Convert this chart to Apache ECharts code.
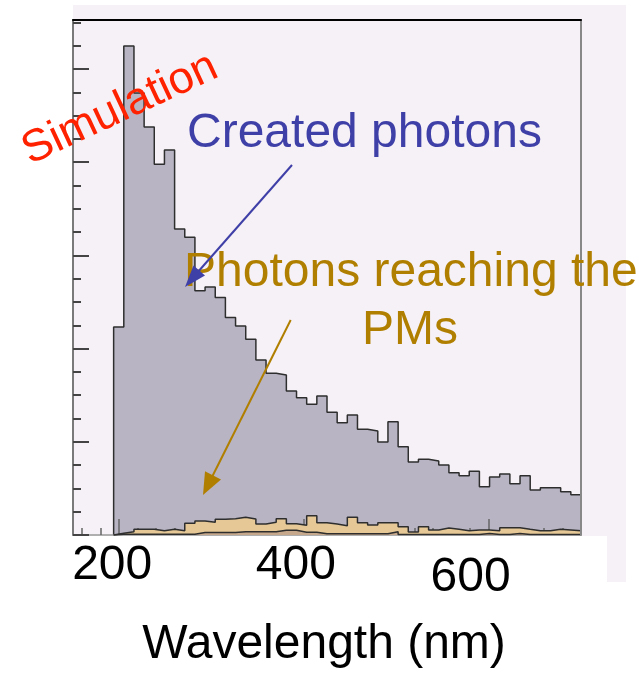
<!DOCTYPE html>
<html>
<head>
<meta charset="utf-8">
<script src="https://cdn.jsdelivr.net/npm/echarts@6/dist/echarts.min.js"></script>
<style>html,body{margin:0;padding:0;background:#fff}#c{width:639px;height:675px}</style>
</head>
<body>
<div id="c"></div>
<script>
// Histogram bins (nm): lower edges, last upper edge
const binLow = [194,205,216,227,238,249,260,271,282,293,304,315,326,337,348,359,370,381,392,403,414,425,436,447,458,469,480,491,502,513,524,535,546,557,568,579,590,601,612,623,634,645,656,667,678,689];
const binHigh = 700;
// Created photons (grey)
const createdPhotons = [2232,5247,4742,4378,3977,4131,3283,3194,2621,2661,2548,2334,2242,2100,1878,1735,1717,1545,1473,1402,1491,1317,1205,1288,1134,1116,998,1216,947,783,812,794,751,668,636,683,518,622,655,550,636,483,508,508,465,432];
// Photons reaching the PMs (tan)
const reachingPMs = [18,35,61,61,46,61,46,126,150,136,168,175,190,172,118,136,175,121,104,207,132,118,100,190,132,107,132,132,89,32,89,54,75,61,46,54,54,46,78,78,61,46,46,61,54,46];
// Lowest histogram (brown)
const lowestHist = [8,8,8,8,8,8,8,8,27,27,27,27,35,35,35,35,50,50,29,29,14,14,14,14,14,14,14,35,5,5,5,5,5,5,5,5,16,5,5,16,5,5,5,5,5,5];
// Axis ticks and labels
const xTickLabels = [200, 400, 600];
const xMinorTicks = [160,180,200,220,240,260,280,300,320,340,360,380,400,420,440,460,480,500,520,540,560,580,600,620,640,660,680,700];
const yMajorTicks = [0,1000,2000,3000,4000,5000];
const yMinorTicks = [250,500,750,1250,1500,1750,2250,2500,2750,3250,3500,3750,4250,4500,4750,5250,5500];
const xMin = 150, xMax = 700, yMin = 0, yMax = 5526;

function stepData(values) {
  const pts = [[binLow[0], 0]];
  values.forEach((v, i) => pts.push([binLow[i], v]));
  pts.push([binHigh, values[values.length - 1]]);
  pts.push([binHigh, 0]);
  return pts;
}

const FONT = '"Liberation Sans", Arial, Helvetica, sans-serif';
const chart = echarts.init(document.getElementById('c'), null, {renderer: 'canvas'});

function histSeries(name, values, fill, z) {
  return {
    name: name, type: 'line', step: 'end', data: stepData(values),
    xAxisIndex: 0, yAxisIndex: 0,
    showSymbol: false, symbol: 'none', silent: true, z: z, smooth: false,
    lineStyle: {color: '#2e2e2e', width: 1.5},
    areaStyle: {color: fill, opacity: 1}
  };
}

const labelRich = {
  l200: {padding: [0, 14, 0, 0], fontSize: 48, color: '#000', fontFamily: FONT},
  l400: {padding: [0, 16, 0, 0], fontSize: 48, color: '#000', fontFamily: FONT},
  l600: {padding: [12, 36, 0, 0], fontSize: 48, color: '#000', fontFamily: FONT}
};

const option = {
  animation: false,
  backgroundColor: '#ffffff',
  grid: {left: 73, right: 58, top: 20, bottom: 140, containLabel: false},
  xAxis: [
    {
      type: 'value', min: xMin, max: xMax, position: 'bottom', offset: 0, z: 2,
      name: 'Wavelength (nm)', nameLocation: 'middle', nameGap: 86,
      nameTextStyle: {fontSize: 48, color: '#000', fontFamily: FONT, padding: [0, 6, 0, 0]},
      axisLine: {show: true, onZero: false, lineStyle: {color: '#999', width: 1.5}},
      axisTick: {show: true, inside: true, length: 16, customValues: xTickLabels, lineStyle: {color: '#666', width: 1.5}},
      axisLabel: {show: true, margin: 7, customValues: xTickLabels,
        formatter: function (v) { return '{l' + v + '|' + v + '}'; }, rich: labelRich},
      splitLine: {show: false}
    },
    {
      type: 'value', min: xMin, max: xMax, position: 'bottom', offset: 0, z: 2,
      axisLine: {show: false, onZero: false},
      axisTick: {show: true, inside: true, length: 7, customValues: xMinorTicks, lineStyle: {color: '#666', width: 1.5}},
      axisLabel: {show: false}, splitLine: {show: false}
    },
    {
      type: 'value', min: xMin, max: xMax, position: 'top', offset: 0, z: 5,
      axisLine: {show: true, onZero: false, lineStyle: {color: '#000', width: 2}},
      axisTick: {show: false}, axisLabel: {show: false}, splitLine: {show: false}
    }
  ],
  yAxis: [
    {
      type: 'value', min: yMin, max: yMax, position: 'left', offset: 0, z: 5,
      axisLine: {show: true, onZero: false, lineStyle: {color: '#7a7a7a', width: 2}},
      axisTick: {show: true, inside: true, length: 16, customValues: yMajorTicks, lineStyle: {color: '#444', width: 2}},
      axisLabel: {show: false}, splitLine: {show: false}
    },
    {
      type: 'value', min: yMin, max: yMax, position: 'left', offset: 0, z: 5,
      axisLine: {show: false, onZero: false},
      axisTick: {show: true, inside: true, length: 8, customValues: yMinorTicks, lineStyle: {color: '#444', width: 2}},
      axisLabel: {show: false}, splitLine: {show: false}
    },
    {
      type: 'value', min: yMin, max: yMax, position: 'right', offset: 0, z: 5,
      axisLine: {show: true, onZero: false, lineStyle: {color: '#888', width: 2}},
      axisTick: {show: false}, axisLabel: {show: false}, splitLine: {show: false}
    }
  ],
  series: [
    histSeries('Created photons', createdPhotons, '#b8b4c4', 1),
    histSeries('Photons reaching the PMs', reachingPMs, '#e5c896', 3),
    histSeries('Lowest', lowestHist, '#c6a98d', 4)
  ],
  graphic: [
    {type: 'rect', z: -10, silent: true, shape: {x: 73, y: 5, width: 553, height: 577}, style: {fill: '#f6f1f6'}},
    {type: 'rect', z: -9, silent: true, shape: {x: 73, y: 536, width: 534, height: 46}, style: {fill: '#ffffff'}},
    {type: 'text', z: 20, x: 120, y: 109, rotation: 25 * Math.PI / 180,
      style: {text: 'Simulation', fill: '#ff2200', font: '45px ' + FONT, align: 'center', verticalAlign: 'middle', textAlign: 'center', textVerticalAlign: 'middle'}},
    {type: 'text', z: 20, x: 187, y: 134,
      style: {text: 'Created photons', fill: '#3f3fa8', font: '48px ' + FONT, align: 'left', verticalAlign: 'middle', textAlign: 'left', textVerticalAlign: 'middle'}},
    {type: 'text', z: 20, x: 184, y: 273,
      style: {text: 'Photons reaching the', fill: '#b07f00', font: '48px ' + FONT, align: 'left', verticalAlign: 'middle', textAlign: 'left', textVerticalAlign: 'middle'}},
    {type: 'text', z: 20, x: 410, y: 331,
      style: {text: 'PMs', fill: '#b07f00', font: '48px ' + FONT, align: 'center', verticalAlign: 'middle', textAlign: 'center', textVerticalAlign: 'middle'}},
    {type: 'line', z: 20, shape: {x1: 292, y1: 165, x2: 197, y2: 273}, style: {stroke: '#3f3fa8', lineWidth: 2}},
    {type: 'polygon', z: 20, shape: {points: [[185, 287], [205, 275.5], [193.5, 265.5]]}, style: {fill: '#3f3fa8'}},
    {type: 'line', z: 20, shape: {x1: 290.7, y1: 320, x2: 211, y2: 479}, style: {stroke: '#b07f00', lineWidth: 2}},
    {type: 'polygon', z: 20, shape: {points: [[203, 495], [221, 479.5], [205, 471.3]]}, style: {fill: '#b07f00'}}
  ]
};
chart.setOption(option);
</script>
</body>
</html>
